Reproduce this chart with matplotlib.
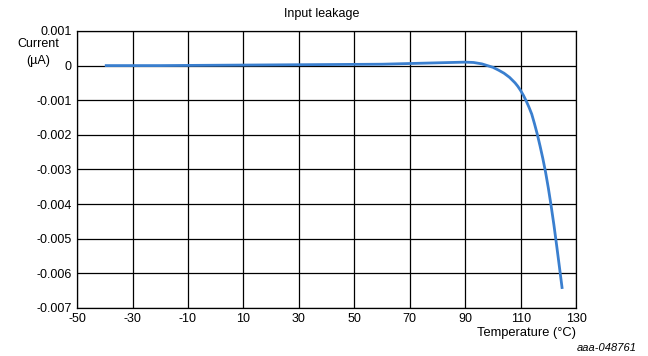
import matplotlib
matplotlib.use('Agg')
import matplotlib.pyplot as plt

plt.rcParams['font.family'] = ['Liberation Sans', 'DejaVu Sans']
plt.rcParams['axes.unicode_minus'] = False

# values
temperature = [-40, -20, 0, 20, 40, 60, 70, 80, 85, 90, 93, 96, 98, 100, 102,
               104, 106, 107, 108, 109, 110, 111, 112, 113, 114, 115, 116, 117,
               118, 119, 120, 121, 122, 123, 124, 125]
current = [0.0, 0.0, 0.00001, 0.00002, 0.00003, 0.00004, 0.00006, 0.00008,
           0.00009, 0.0001, 0.00009, 0.00005, 0.0, -0.00005, -0.00013,
           -0.00022, -0.00034, -0.00042, -0.0005, -0.0006, -0.00072, -0.00086,
           -0.00102, -0.0012, -0.0014, -0.00168, -0.00198, -0.00232, -0.00268,
           -0.00308, -0.00354, -0.00405, -0.0046, -0.0052, -0.00582, -0.00645]

xticks = [-50, -30, -10, 10, 30, 50, 70, 90, 110, 130]
yticks = [0.001, 0, -0.001, -0.002, -0.003, -0.004, -0.005, -0.006, -0.007]
ytick_labels = ['0.001', '0', '-0.001', '-0.002', '-0.003', '-0.004',
                '-0.005', '-0.006', '-0.007']

fig = plt.figure(figsize=(6.48, 3.56), dpi=100)
ax = fig.add_axes([0.119, 0.135, 0.770, 0.778])

ax.plot(temperature, current, color='#3a7fcf', linewidth=2.0,
        solid_capstyle='butt', solid_joinstyle='round', zorder=3)

ax.set_xlim(-50, 130)
ax.set_ylim(-0.007, 0.001)
ax.set_xticks(xticks)
ax.set_xticklabels([str(t) for t in xticks])
ax.set_yticks(yticks)
ax.set_yticklabels(ytick_labels)
ax.tick_params(length=0, labelsize=9, pad=4)
ax.grid(True, color='black', linewidth=0.9)
for s in ax.spines.values():
    s.set_linewidth(0.9)

fig.text(0.497, 0.962, 'Input leakage', ha='center', va='center', fontsize=9)
fig.text(0.059, 0.853, 'Current\n(µA)', ha='center', va='center', fontsize=9,
         linespacing=1.5)
fig.text(0.889, 0.065, 'Temperature (°C)', ha='right', va='center', fontsize=9.3)
fig.text(0.983, 0.022, 'aaa-048761', ha='right', va='center', fontsize=8,
         style='italic')

fig.savefig('out.png', dpi=100)
